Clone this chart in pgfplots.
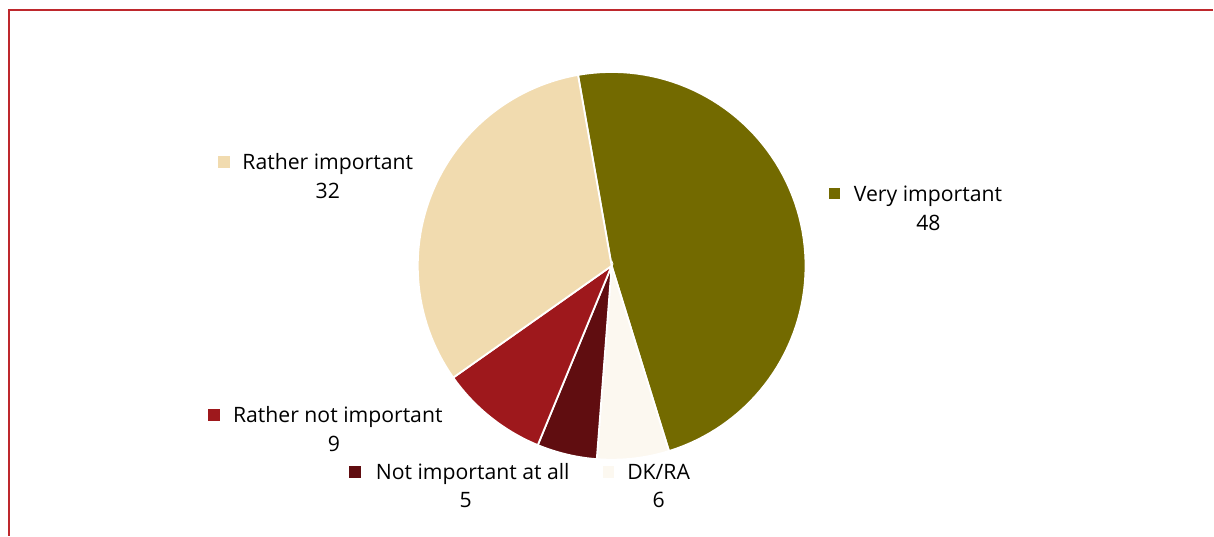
\documentclass[border=0pt]{standalone}
\usepackage{pgfplots}
\usepackage{pgfplotstable}
\pgfplotsset{compat=1.18}
\usepackage{fontspec}
\setmainfont{Open Sans}
\newcommand\lblfont{\fontsize{10.6bp}{13bp}\selectfont}
\definecolor{cVI}{RGB}{115,106,0}
\definecolor{cRI}{RGB}{241,219,175}
\definecolor{cRN}{RGB}{158,24,28}
\definecolor{cNI}{RGB}{96,13,16}
\definecolor{cDK}{RGB}{252,248,240}
\definecolor{frame}{RGB}{190,40,45}
\pgfplotstableread{
label value
VI 48
DK 6
NI 5
RN 9
RI 32
}\piedata
\begin{document}
\begin{tikzpicture}
\pgfplotstablegetelem{0}{value}\of\piedata\let\vA\pgfplotsretval
\pgfplotstablegetelem{1}{value}\of\piedata\let\vB\pgfplotsretval
\pgfplotstablegetelem{2}{value}\of\piedata\let\vC\pgfplotsretval
\pgfplotstablegetelem{3}{value}\of\piedata\let\vD\pgfplotsretval
\pgfplotstablegetelem{4}{value}\of\piedata\let\vE\pgfplotsretval
\pgfmathsetmacro\aA{100}
\pgfmathsetmacro\aB{\aA-3.6*\vA}
\pgfmathsetmacro\aC{\aB-3.6*\vB}
\pgfmathsetmacro\aD{\aC-3.6*\vC}
\pgfmathsetmacro\aE{\aD-3.6*\vD}
\pgfmathsetmacro\aF{\aE-3.6*\vE}
\begin{axis}[
  width=607bp, height=268bp, scale only axis,
  xmin=0, xmax=1214, ymin=0, ymax=536, y dir=reverse,
  axis lines=none, ticks=none, clip=false,
]
\path (axis cs:0,0) rectangle (axis cs:1214,536);
\addplot[fill=cVI, draw=white, line width=0.9bp, domain=\aB:\aA, samples=80, variable=\t]
  ({612+194*cos(t)}, {266-194*sin(t)}) -- (axis cs:612,266) -- cycle;
\addplot[fill=cDK, draw=white, line width=0.9bp, domain=\aC:\aB, samples=20, variable=\t]
  ({612+194*cos(t)}, {266-194*sin(t)}) -- (axis cs:612,266) -- cycle;
\addplot[fill=cNI, draw=white, line width=0.9bp, domain=\aD:\aC, samples=20, variable=\t]
  ({612+194*cos(t)}, {266-194*sin(t)}) -- (axis cs:612,266) -- cycle;
\addplot[fill=cRN, draw=white, line width=0.9bp, domain=\aE:\aD, samples=20, variable=\t]
  ({612+194*cos(t)}, {266-194*sin(t)}) -- (axis cs:612,266) -- cycle;
\addplot[fill=cRI, draw=white, line width=0.9bp, domain=\aF:\aE, samples=60, variable=\t]
  ({612+194*cos(t)}, {266-194*sin(t)}) -- (axis cs:612,266) -- cycle;
% frame
\draw[frame, line width=0.7bp] (axis cs:9,536) -- (axis cs:9,10) -- (axis cs:1214,10);
% labels
\tikzset{lbl/.style={font=\lblfont, text=black, inner sep=0pt, anchor=base}, mk/.style={inner sep=0pt}}
\node[lbl] at (axis cs:328,170) {Rather important};
\node[lbl] at (axis cs:328,199) {32};
\node[mk] at (axis cs:224,162) {\textcolor{cRI}{\rule{5.8bp}{5.8bp}}};
\node[lbl] at (axis cs:928.5,202) {Very important};
\node[lbl] at (axis cs:929,231) {48};
\node[mk] at (axis cs:835,193.5) {\textcolor{cVI}{\rule{5.8bp}{5.8bp}}};
\node[lbl] at (axis cs:338,423) {Rather not important};
\node[lbl] at (axis cs:334,452) {9};
\node[mk] at (axis cs:214,415) {\textcolor{cRN}{\rule{5.8bp}{5.8bp}}};
\node[lbl] at (axis cs:473,480) {Not important at all};
\node[lbl] at (axis cs:466,508) {5};
\node[mk] at (axis cs:355,472) {\textcolor{cNI}{\rule{5.8bp}{5.8bp}}};
\node[lbl] at (axis cs:659,480) {DK/RA};
\node[lbl] at (axis cs:659,508) {6};
\node[mk] at (axis cs:609,472) {\textcolor{cDK}{\rule{5.8bp}{5.8bp}}};
\end{axis}
\end{tikzpicture}
\end{document}
